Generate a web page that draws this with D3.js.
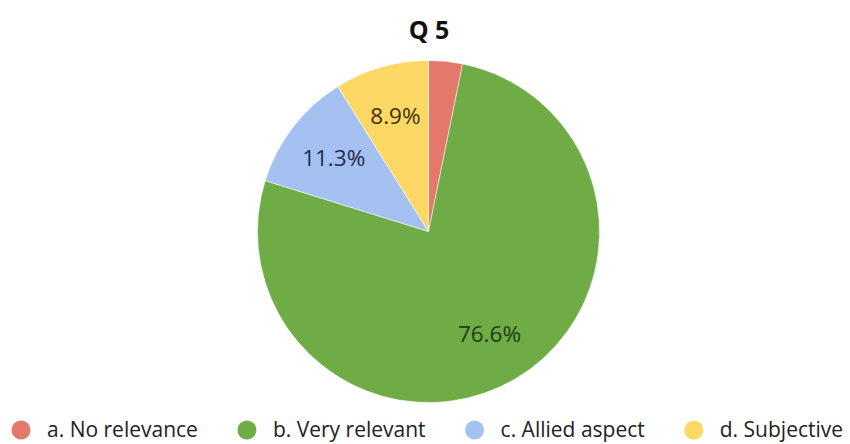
<!DOCTYPE html>
<html>
<head>
<meta charset="utf-8">
<script src="https://cdn.jsdelivr.net/npm/d3@7"></script>
<style>
  html, body { margin: 0; padding: 0; background: #fff; }
  svg { display: block; }
</style>
</head>
<body>
<svg id="chart" width="850" height="444"></svg>
<script>
const title = "Q 5";
const categories = ["a. No relevance", "b. Very relevant", "c. Allied aspect", "d. Subjective"];
const values = [3.2, 76.6, 11.3, 8.9];
const labels = ["", "76.6%", "11.3%", "8.9%"];
const colors = ["#E3786B", "#6FAC46", "#A5C1F2", "#FED865"];
const labelColors = ["#3a1a14", "#1d3a12", "#1f2d4d", "#3d3005"];

const W = 850, H = 444;
const cx = 428.5, cy = 231.5, R = 171;
const FONT = "'Open Sans', 'Liberation Sans', sans-serif";

const svg = d3.select("#chart");

svg.append("text")
  .attr("x", 429).attr("y", 39)
  .attr("text-anchor", "middle")
  .attr("font-family", FONT)
  .attr("font-weight", "bold")
  .attr("font-size", 25)
  .attr("fill", "#111")
  .text(title);

const data = categories.map((c, i) => ({ cat: c, value: values[i], label: labels[i], color: colors[i], lc: labelColors[i] }));

const pie = d3.pie().value(d => d.value).sort(null);
const arcs = pie(data);
const arc = d3.arc().innerRadius(0).outerRadius(R);
const labelArc = d3.arc().innerRadius(R * 0.7).outerRadius(R * 0.7);

const g = svg.append("g").attr("transform", `translate(${cx},${cy})`);
g.selectAll("path").data(arcs).join("path")
  .attr("d", arc)
  .attr("fill", d => d.data.color)
  .attr("stroke", "#fff")
  .attr("stroke-width", 0.5);

g.selectAll("text.lbl").data(arcs.filter(d => d.data.label)).join("text")
  .attr("class", "lbl")
  .attr("transform", d => `translate(${labelArc.centroid(d)})`)
  .attr("text-anchor", "middle")
  .attr("dy", "0.35em")
  .attr("font-family", FONT)
  .attr("font-size", 22.5)
  .attr("fill", d => d.data.lc)
  .text(d => d.data.label);

// legend, flowing left to right
const legend = svg.append("g");
let x = 21;
const ly = 430;
data.forEach(d => {
  legend.append("circle").attr("cx", x).attr("cy", ly).attr("r", 9.5).attr("fill", d.color);
  const t = legend.append("text")
    .attr("x", x + 26).attr("y", ly)
    .attr("dy", "0.33em")
    .attr("font-family", FONT)
    .attr("font-size", 21)
    .attr("fill", "#222")
    .text(d.cat);
  x = x + 26 + t.node().getComputedTextLength() + 49;
});
</script>
</body>
</html>
